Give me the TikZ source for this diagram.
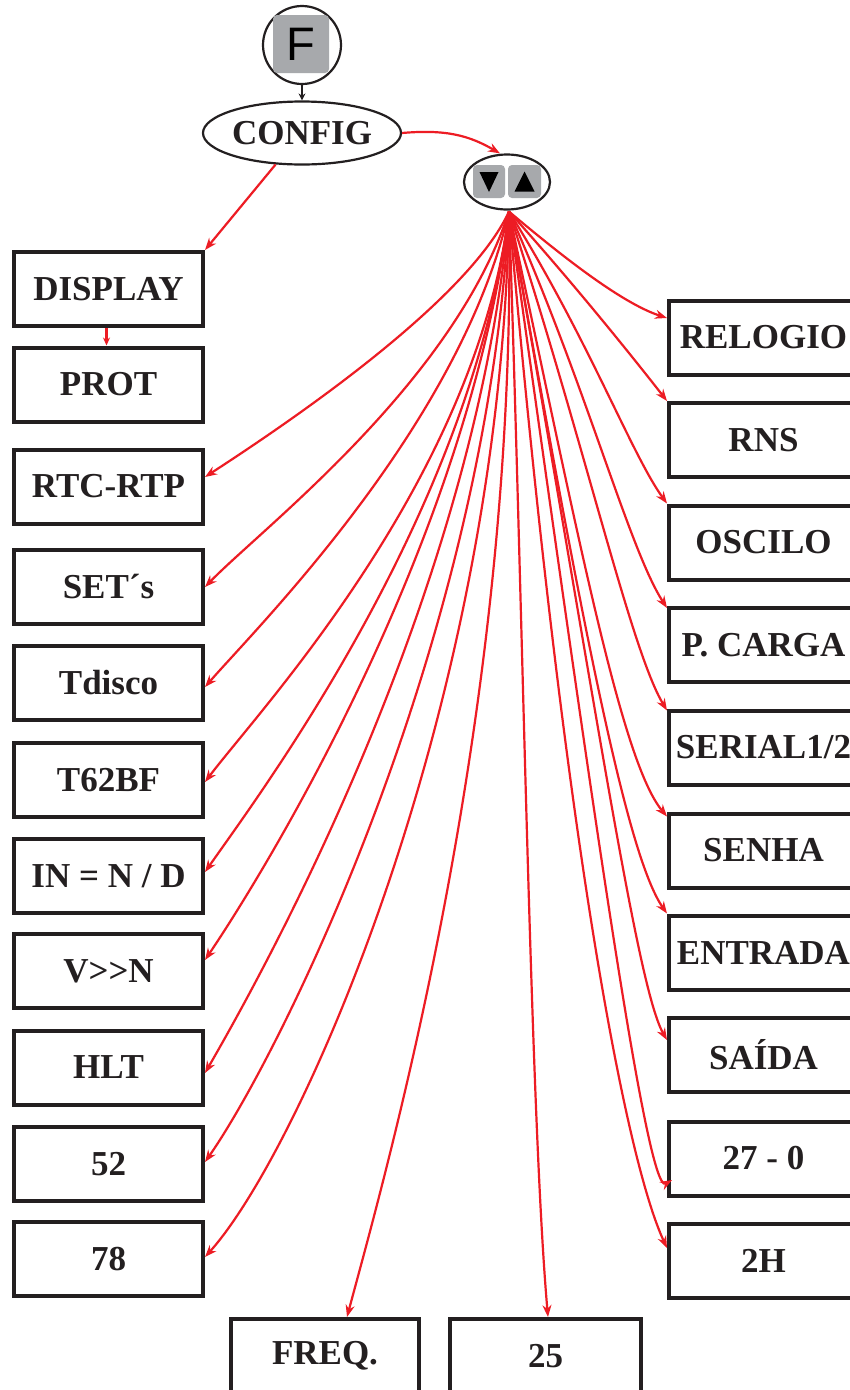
\documentclass[tikz,border=0pt]{standalone}
\usepackage{fontspec}
\setmainfont{Liberation Serif}
\newfontfamily\keyfont{Liberation Sans}
\usetikzlibrary{shapes.geometric,arrows.meta}
\definecolor{ink}{HTML}{231F20}
\definecolor{arrowred}{HTML}{ED1C24}
\definecolor{keygray}{HTML}{A7A9AC}
\tikzset{
  box/.style={draw=ink, line width=4pt, minimum width=189pt, minimum height=74pt,
    inner sep=0pt, text=ink, font=\fontsize{35}{40}\selectfont\bfseries},
  oval/.style={ellipse, draw=ink, line width=2.2pt, inner sep=0pt, fill=white},
  keysq/.style={rectangle, rounded corners=4pt, fill=keygray, inner sep=0pt},
  link/.style={draw=arrowred, line width=2.2pt, -{Stealth[length=12pt,width=9pt]}},
  shortlink/.style={draw=arrowred, line width=2.2pt, -{Stealth[length=8pt,width=7pt]}},
  blacklink/.style={draw=ink, line width=1.6pt, -{Stealth[length=7pt,width=7pt]}},
}
\begin{document}
\begin{tikzpicture}[x=1pt,y=1pt]
\clip (0,0) rectangle (850,-1390);
\fill[white] (0,0) rectangle (850,-1390);

% top controls
\node[circle, draw=ink, line width=2.2pt, minimum size=78pt, inner sep=0pt] (fbtn) at (302,-45) {};
\node[keysq, minimum width=56pt, minimum height=58pt, font=\keyfont\fontsize{47}{50}\selectfont, text=black] (fkey) at (301,-44) {F};
\node[oval, minimum width=198pt, minimum height=63pt, text=ink, font=\fontsize{35}{40}\selectfont\bfseries] (cfg) at (302,-133) {CONFIG};
\node[oval, minimum width=86pt, minimum height=55pt] (keys) at (507,-182) {};
\node[keysq, minimum width=32pt, minimum height=33pt] (kdown) at (489,-181.5) {};
\node[keysq, minimum width=33pt, minimum height=33pt] (kup) at (524.5,-181.5) {};
\fill[black] (kdown.center) ++(-9.5,9.5) -- ++(19,0) -- ++(-9.5,-20) -- cycle;
\fill[black] (kup.center) ++(-10,-10) -- ++(20,0) -- ++(-10,20) -- cycle;
\coordinate (src) at ([xshift=2pt,yshift=-1pt]keys.south);

% left column
\node[box] (disp) at (108.5,-289) {DISPLAY};
\node[box] (prot) at (108.5,-384.5) {PROT};
\node[box] (rtc) at (108.5,-486.5) {RTC-RTP};
\node[box] (set) at (108.5,-587) {SET´s};
\node[box] (tdisco) at (108.5,-683) {Tdisco};
\node[box] (t62) at (108.5,-780) {T62BF};
\node[box] (inn) at (108.5,-876) {IN = N / D};
\node[box] (vnn) at (108.5,-971) {V>{}>N};
\node[box] (hlt) at (108.5,-1067.5) {HLT};
\node[box] (n52) at (108.5,-1164) {52};
\node[box] (n78) at (108.5,-1259) {78};

% right column
\node[box] (relogio) at (763.5,-337.5) {RELOGIO};
\node[box] (rns) at (763.5,-440) {RNS};
\node[box] (oscilo) at (763.5,-542.5) {OSCILO};
\node[box] (pcarga) at (763.5,-645) {P. CARGA};
\node[box] (serial) at (763.5,-747.5) {SERIAL1/2};
\node[box] (senha) at (763.5,-850.5) {SENHA};
\node[box] (entrada) at (763.5,-952.5) {ENTRADA};
\node[box] (saida) at (763.5,-1055) {SAÍDA};
\node[box] (s27) at (763.5,-1158.5) {27 - 0};
\node[box] (s2h) at (763.5,-1261) {2H};

% bottom
\node[box, minimum width=188pt] (freq) at (325,-1356) {FREQ.};
\node[box, minimum width=191pt] (n25) at (545.5,-1356) {25};

% connectors
\draw[blacklink] (fbtn.south) -- (cfg.north);
\draw[link] (cfg.east) .. controls +(5:45) and +(150:35) .. ([xshift=-7pt]keys.north);
\draw[link] (cfg.230) -- (disp.north east);
\draw[shortlink] ([xshift=-2pt]disp.south) -- ([xshift=-2pt]prot.north);

\draw[link] (src) .. controls +(-115:100) and +(33:100) .. ([yshift=9.5pt]rtc.east);
\draw[link] (src) .. controls +(-108:180) and +(46:80) .. (set.east);
\draw[link] (src) .. controls +(-103:220) and +(49:80) .. ([yshift=-4pt]tdisco.east);
\draw[link] (src) .. controls +(-97:270) and +(53:90) .. ([yshift=-2pt]t62.east);
\draw[link] (src) .. controls +(-97:300) and +(55:100) .. ([yshift=4pt]inn.east);
\draw[link] (src) .. controls +(-97:330) and +(56:110) .. ([yshift=11pt]vnn.east);
\draw[link] (src) .. controls +(-95:380) and +(60:120) .. ([yshift=-5.5pt]hlt.east);
\draw[link] (src) .. controls +(-93:430) and +(55:130) .. ([yshift=2pt]n52.east);
\draw[link] (src) .. controls +(-91:490) and +(48:143) .. ([yshift=2pt]n78.east);

\draw[link] (src) .. controls +(-89:500) and +(75:150) .. ([xshift=22pt]freq.north);
\draw[link] (src) .. controls +(-88:400) and +(95:200) .. ([xshift=2.5pt]n25.north);

\draw[link] (src) .. controls +(-40:60) and +(162:50) .. ([yshift=19.5pt]relogio.west);
\draw[link] (src) .. controls +(-48:100) and +(128:50) .. (rns.north west);
\draw[link] (src) .. controls +(-58:150) and +(126:60) .. (oscilo.north west);
\draw[link] (src) .. controls +(-66:190) and +(123:70) .. ([yshift=-2pt]pcarga.north west);
\draw[link] (src) .. controls +(-72:250) and +(121:70) .. ([yshift=-2pt]serial.north west);
\draw[link] (src) .. controls +(-78:340) and +(130:70) .. ([yshift=-5pt]senha.north west);
\draw[link] (src) .. controls +(-80:420) and +(125:70) .. (entrada.north west);
\draw[link] (src) .. controls +(-80:500) and +(120:60) .. ([yshift=-24pt]saida.north west);
\draw[link] (src) .. controls +(-82:560) and +(-150:30) .. ([xshift=5pt,yshift=17.5pt]s27.south west);
\draw[link] (src) .. controls +(-85:620) and +(115:100) .. ([yshift=13pt]s2h.west);
\end{tikzpicture}
\end{document}
